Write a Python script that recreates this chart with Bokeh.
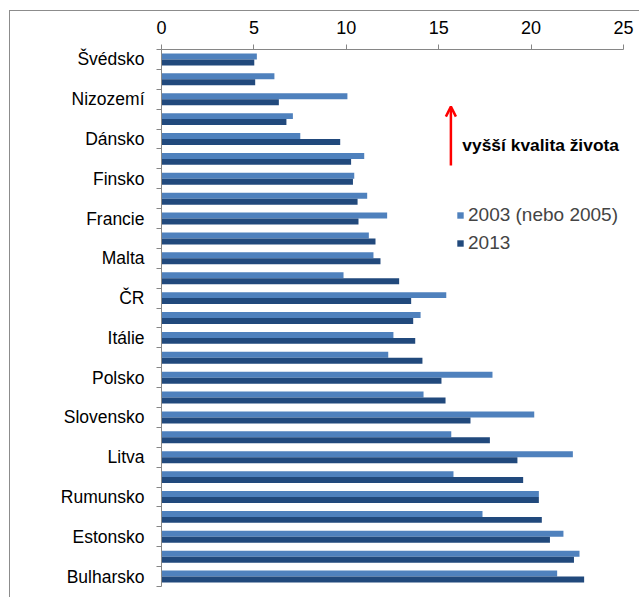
from bokeh.plotting import figure
from bokeh.models import (Range1d, FixedTicker, Legend, LegendItem, Arrow, OpenHead,
                          Label, ColumnDataSource)
from bokeh.transform import dodge
from bokeh.embed import file_html
from bokeh.resources import INLINE

# ---- data ----
countries = ["Švédsko", "", "Nizozemí", "", "Dánsko", "", "Finsko", "", "Francie", "",
             "Malta", "", "ČR", "", "Itálie", "", "Polsko", "", "Slovensko", "",
             "Litva", "", "Rumunsko", "", "Estonsko", "", "Bulharsko"]
v2003 = [5.16, 6.11, 10.06, 7.11, 7.51, 10.97, 10.43, 11.13, 12.21, 11.22,
         11.47, 9.85, 15.41, 14.02, 12.55, 12.27, 17.91, 14.18, 20.17, 15.68,
         22.26, 15.80, 20.42, 17.37, 21.75, 22.62, 21.41]
v2013 = [5.02, 5.07, 6.35, 6.76, 9.67, 10.26, 10.36, 10.61, 10.66, 11.58,
         11.85, 12.86, 13.51, 13.62, 13.73, 14.12, 15.15, 15.37, 16.72, 17.77,
         19.26, 19.57, 20.42, 20.58, 21.02, 22.32, 22.87]
series_labels = ["2003 (nebo 2005)", "2013"]
x_ticks = [0, 5, 10, 15, 20, 25]
annotation_text = "vyšší kvalita života"

rank = list(range(len(countries)))
src = ColumnDataSource(dict(rank=rank, v2003=v2003, v2013=v2013))

AX = "#868686"
FONT = "Liberation Sans"

p = figure(width=630, height=587,
           x_range=Range1d(0, 25), y_range=Range1d(len(countries) - 0.5, -0.5),
           x_axis_location="above", output_backend="svg", toolbar_location=None,
           min_border_left=151, min_border_right=17, min_border_top=38, min_border_bottom=12)
p.styles = {"border-left": "1px solid #8c8c8c", "border-top": "1px solid #8c8c8c",
            "margin-left": "9px", "margin-top": "10px"}

p.xgrid.visible = False
p.ygrid.visible = False
p.outline_line_color = None
p.background_fill_color = "white"
p.border_fill_color = "white"

xa = p.xaxis[0]
xa.ticker = FixedTicker(ticks=x_ticks)
xa.axis_line_color = AX
xa.major_tick_line_color = AX
xa.major_tick_in = 0
xa.major_tick_out = 5
xa.minor_tick_line_color = None
xa.major_label_text_font = FONT
xa.major_label_text_font_size = "18px"
xa.major_label_text_color = "black"
xa.major_label_standoff = 11

ya = p.yaxis[0]
ya.ticker = FixedTicker(ticks=[i for i, c in enumerate(countries) if c],
                        minor_ticks=[i - 0.5 for i in range(len(countries) + 1)])
ya.major_label_overrides = {i: c for i, c in enumerate(countries) if c}
ya.axis_line_color = AX
ya.major_tick_line_color = None
ya.major_tick_in = 0
ya.major_tick_out = 5
ya.minor_tick_line_color = AX
ya.minor_tick_in = 0
ya.minor_tick_out = 5
ya.major_label_text_font = FONT
ya.major_label_text_font_size = "17.5px"
ya.major_label_text_color = "black"
ya.major_label_standoff = 12

r1 = p.hbar(y=dodge("rank", -0.15), right="v2003", left=0, height=0.3, source=src,
            fill_color="#4F81BD", line_color=None)
r2 = p.hbar(y=dodge("rank", 0.15), right="v2013", left=0, height=0.3, source=src,
            fill_color="#21497C", line_color=None)

legend = Legend(items=[LegendItem(label=series_labels[0], renderers=[r1]),
                       LegendItem(label=series_labels[1], renderers=[r2])],
                location=(295, 332), glyph_width=8, glyph_height=8,
                label_text_font=FONT, label_text_font_size="19px",
                label_standoff=4, label_height=22, spacing=6,
                padding=0, margin=0, border_line_color=None,
                background_fill_alpha=0)
p.add_layout(legend)

p.add_layout(Arrow(end=OpenHead(size=10, line_color="red", line_width=2.5),
                   x_start=15.66, y_start=5.33, x_end=15.66, y_end=2.37,
                   line_color="red", line_width=2.5))
p.add_layout(Label(x=16.28, y=4.29, text=annotation_text, text_font=FONT,
                   text_font_style="bold", text_font_size="17.4px",
                   text_baseline="middle", text_color="black"))

open("out.html", "w").write(file_html(p, INLINE))
